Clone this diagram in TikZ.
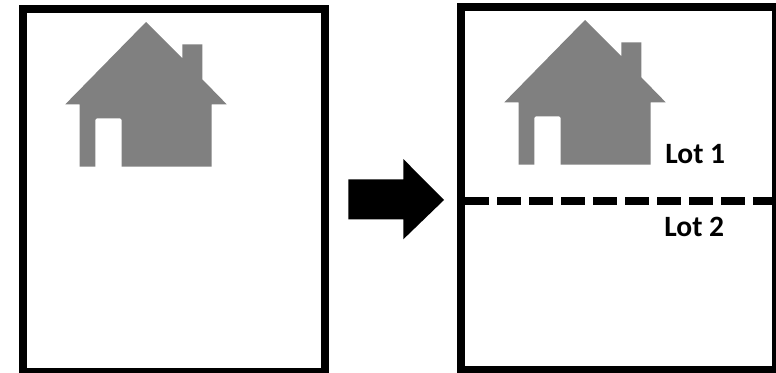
\documentclass[tikz,border=0pt]{standalone}
\usepackage{fontspec}
\setmainfont{Carlito}
\tikzset{
    LO/.style ={draw=black,line width=8pt,fill=white},
    CUT/.style ={draw=black,line width=8pt,dash pattern=on 24pt off 8pt},
    LA/.style ={font=\fontsize{29.5pt}{32pt}\selectfont\bfseries,inner sep=0pt,anchor=base},
    HO/.style ={fill=black!50!white,draw=none},
    AR/.style ={fill=black,draw=none}}

\begin{document}
\begin{tikzpicture}[x=1pt,y=-1pt]
    \useasboundingbox (0,0) rectangle (776,372);
    % plots
    \draw[LO] (23,8.5) rectangle (325,372);
    \draw[LO] (461.3,6.7) rectangle (776,370);
    % houses
    \foreach \dx/\dy in {0/0,439/-2}{
        \fill[HO,shift={(\dx,\dy)}] (146,22) -- (182.3,58.3) -- (182.3,44.3) -- (202.3,44.3)
            -- (202.3,79.3) -- (226.7,104.3) -- (211.7,104.3) -- (211.7,166.7)
            -- (121.7,166.7) [rounded corners=2pt] -- (121.7,118.3) -- (95.3,118.3)
            [sharp corners] -- (95.3,166.7)
            -- (79.7,166.7) -- (79.7,104.3) -- (65.3,104.3) -- cycle;
    }
    % arrow between plots
    \fill[AR] (348.3,179.3) -- (403.3,179.3) -- (403.3,159) -- (444,200) -- (403.3,239.3)
        -- (403.3,219.3) -- (348.3,219.3) -- cycle;
    % split
    \coordinate (C1) at (465.3,200.7);
    \coordinate (C2) at (776,200.7);
    \draw[CUT] (C1) -- (C2);
    \node[LA] (L1) at (695.3,163.5) {Lot 1};
    \node[LA] (L2) at (694.2,236.2) {Lot 2};
\end{tikzpicture}
\end{document}
